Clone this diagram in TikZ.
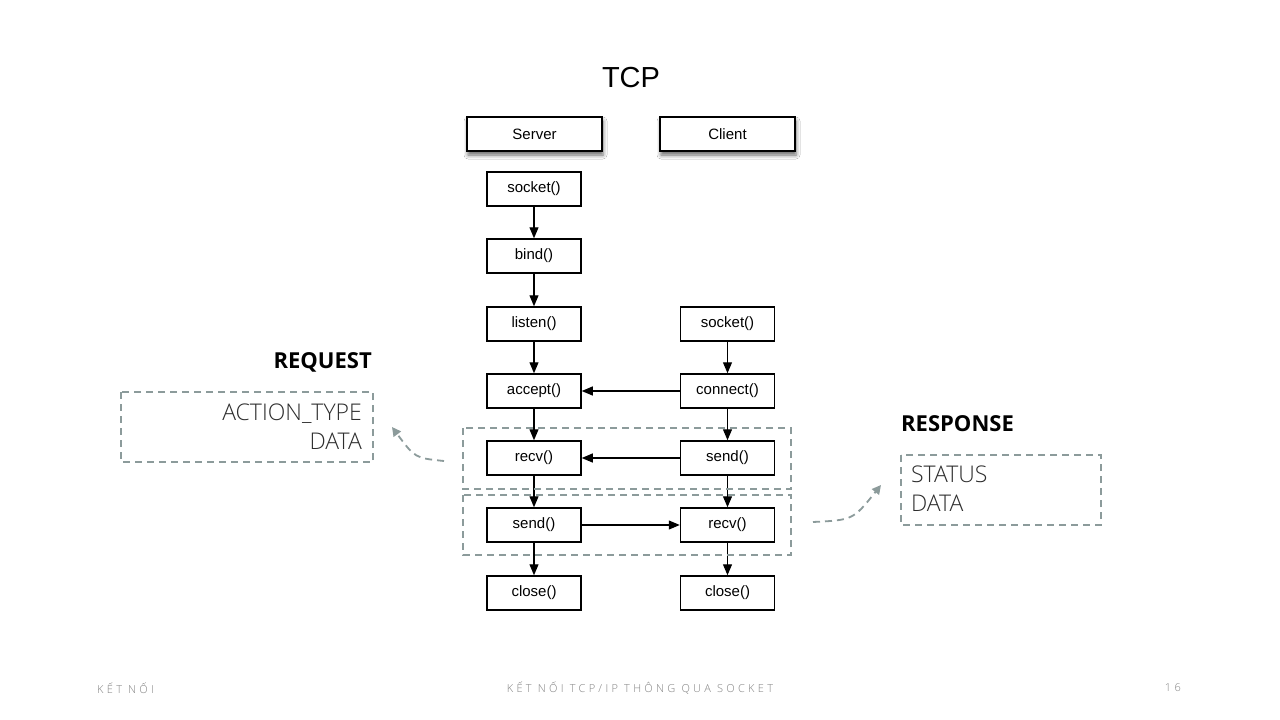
\documentclass[tikz,border=0pt]{standalone}
\usepackage{fontspec}
\setmainfont{Liberation Sans}
\newfontfamily\osfont{Open Sans}
\newfontfamily\oslight{Open Sans Light}
\usetikzlibrary{arrows.meta,shadows.blur}
\definecolor{dgray}{RGB}{140,155,155}
\definecolor{footgray}{RGB}{130,130,130}
\definecolor{txtgray}{RGB}{45,45,45}
\begin{document}
\begin{tikzpicture}[x=1pt,y=-1pt,
  fn/.style={draw, line width=1.5pt, minimum width=94pt, minimum height=34pt, inner sep=0pt, fill=white, font=\fontsize{15}{17}\selectfont},
  hdr/.style={fn, minimum width=135pt, blur shadow={shadow xshift=1pt, shadow yshift=-4pt, shadow blur radius=4pt, shadow opacity=60}},
  flow/.style={-{Triangle[length=11pt,width=9pt]}, line width=1.2pt},
  dbox/.style={draw=dgray, line width=1.8pt, dash pattern=on 7pt off 5pt},
  darr/.style={draw=dgray, line width=1.8pt, dash pattern=on 7pt off 5pt, -{Triangle[length=9pt,width=9pt]}},
  lbl/.style={font=\osfont\bfseries\fontsize{22}{26}\selectfont},
  lt/.style={font=\oslight\fontsize{23}{29}\selectfont, text=txtgray, inner sep=0pt},
  foot/.style={font=\oslight\fontsize{11}{13}\selectfont\addfontfeatures{LetterSpace=30}, text=footgray, inner sep=0pt}]
\fill[white] (0,0) rectangle (1280,720);
\useasboundingbox (0,0) rectangle (1280,720);

\node[font=\fontsize{29}{34}\selectfont] (title) at (631,78) {TCP};

\node[hdr] (server) at (534.5,134) {Server};
\node[hdr] (client) at (727.5,134) {Client};

\node[fn] (s1) at (534,189) {socket()};
\node[fn] (s2) at (534,256) {bind()};
\node[fn] (s3) at (534,324) {listen()};
\node[fn] (s4) at (534,391) {accept()};
\node[fn] (s5) at (534,458) {recv()};
\node[fn] (s6) at (534,525) {send()};
\node[fn] (s7) at (534,593) {close()};

\node[fn] (c1) at (727.5,324) {socket()};
\node[fn] (c2) at (727.5,391) {connect()};
\node[fn] (c3) at (727.5,458) {send()};
\node[fn] (c4) at (727.5,525) {recv()};
\node[fn] (c5) at (727.5,593) {close()};

\draw[flow] (s1) -- (s2);
\draw[flow] (s2) -- (s3);
\draw[flow] (s3) -- (s4);
\draw[flow] (s4) -- (s5);
\draw[flow] (s5) -- (s6);
\draw[flow] (s6) -- (s7);
\draw[flow] (c1) -- (c2);
\draw[flow] (c2) -- (c3);
\draw[flow] (c3) -- (c4);
\draw[flow] (c4) -- (c5);
\draw[flow] (c2) -- (s4);
\draw[flow] (c3) -- (s5);
\draw[flow] (s6) -- (c4);

\draw[dbox] (463,428) rectangle (791,489);
\draw[dbox] (463,495) rectangle (791,555);

% request
\node[lbl, anchor=east, inner sep=0pt] (req) at (372,362) {REQUEST};
\draw[dbox] (121,392) rectangle (373,462);
\node[lt, anchor=east, align=right] (reqtxt) at (362,427) {ACTION\_TYPE\\DATA};
\coordinate (ra) at (444,461);
\coordinate (rb) at (392,427);
\draw[darr] (ra) .. controls (415,458) .. (rb);

% response
\node[lbl, anchor=west, inner sep=0pt] (resp) at (901,424) {RESPONSE};
\draw[dbox] (901,455) rectangle (1101,525);
\node[lt, anchor=west, align=left] (resptxt) at (911,489) {STATUS\\DATA};
\coordinate (pa) at (813,522);
\coordinate (pb) at (881,485);
\draw[darr] (pa) .. controls (853,520) .. (pb);

% footer
\node[foot, anchor=west] (f1) at (97,688) {KẾT NỐI};
\node[foot] (f2) at (640,688) {KẾT NỐI TCP/IP THÔNG QUA SOCKET};
\node[foot, anchor=east] (f3) at (1181,688) {16};
\end{tikzpicture}
\end{document}
